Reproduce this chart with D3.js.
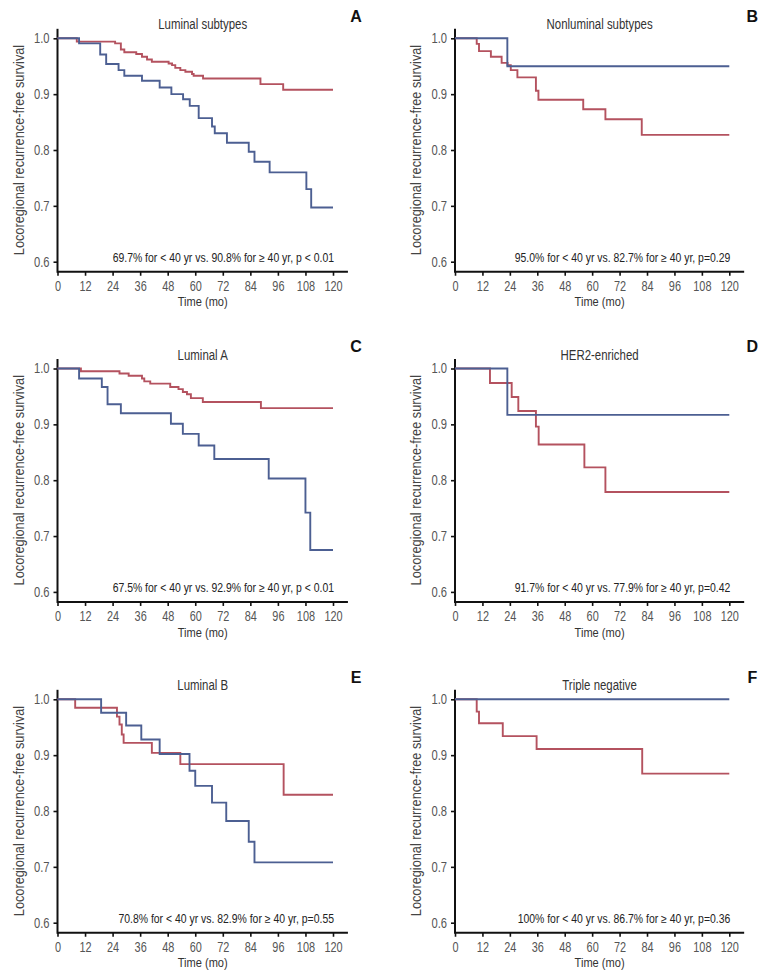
<!DOCTYPE html>
<html><head><meta charset="utf-8">
<script src="https://cdn.jsdelivr.net/npm/d3@7"></script>
<style>
body{margin:0;background:#fff;}
svg{display:block;}
text{font-family:"Liberation Sans","Arial",sans-serif;}
</style></head><body>
<svg id="c" width="767" height="978"></svg>
<script>
const panelLetters = ["A","B","C","D","E","F"];
const panelTitles = ["Luminal subtypes","Nonluminal subtypes","Luminal A","HER2-enriched","Luminal B","Triple negative"];
const annotations = [
 "69.7% for < 40 yr vs. 90.8% for \u2265 40 yr, p < 0.01",
 "95.0% for < 40 yr vs. 82.7% for \u2265 40 yr, p=0.29",
 "67.5% for < 40 yr vs. 92.9% for \u2265 40 yr, p < 0.01",
 "91.7% for < 40 yr vs. 77.9% for \u2265 40 yr, p=0.42",
 "70.8% for < 40 yr vs. 82.9% for \u2265 40 yr, p=0.55",
 "100% for < 40 yr vs. 86.7% for \u2265 40 yr, p=0.36"
];
const xTicks = [0,12,24,36,48,60,72,84,96,108,120];
const yTicks = [0.6,0.7,0.8,0.9,1.0];
const xLabel = "Time (mo)";
const yLabel = "Locoregional recurrence-free survival";

// [month, survival] — under 40 years (blue)
const youngA = [[0,1],[9.4,0.991],[18.6,0.971],[21.2,0.954],[26.6,0.943],[29.1,0.933],[36.8,0.924],[44.5,0.912],[49.6,0.900],[54.7,0.891],[57.6,0.879],[61.5,0.857],[67.3,0.842],[68.5,0.830],[73.8,0.813],[83.3,0.797],[85.8,0.779],[92.4,0.760],[108.4,0.730],[110.5,0.697],[120,0.697]];
const youngB = [[0,1],[22.9,0.950],[120,0.950]];
const youngC = [[0,1],[9.4,0.982],[19.3,0.967],[21.8,0.936],[27.6,0.920],[49.4,0.901],[54.6,0.883],[61.5,0.862],[68.3,0.838],[92,0.803],[108,0.742],[110.1,0.675],[120,0.675]];
const youngD = [[0,1],[22.9,0.917],[120,0.917]];
const youngE = [[0,1],[19,0.976],[29.9,0.953],[36.5,0.928],[44.5,0.902],[57.5,0.872],[60,0.845],[67.3,0.815],[73.5,0.782],[83.3,0.745],[85.8,0.708],[120,0.708]];
const youngF = [[0,1],[120,1]];
// [month, survival] — 40 years or older (red)
const olderA = [[0,1],[8.4,0.994],[25.1,0.991],[27.6,0.980],[29.1,0.975],[34.3,0.972],[36.8,0.967],[39,0.962],[41.1,0.958],[48.4,0.955],[49.9,0.952],[51.3,0.947],[53.5,0.943],[55.7,0.940],[58.6,0.936],[59.3,0.933],[63.4,0.928],[88.4,0.918],[98.3,0.908],[120,0.908]];
const olderB = [[0,1],[9.5,0.990],[10.5,0.977],[15.7,0.967],[20.4,0.956],[23,0.952],[24.4,0.943],[27.3,0.930],[35.4,0.906],[36.5,0.890],[56.1,0.873],[65.8,0.855],[81.7,0.827],[120,0.827]];
const olderC = [[0,1],[10.2,0.995],[27,0.991],[31,0.987],[36.8,0.982],[37.8,0.977],[40.4,0.973],[49.1,0.967],[52.7,0.963],[54.6,0.958],[56.4,0.954],[58.1,0.947],[63.3,0.940],[88.6,0.929],[120,0.929]];
const olderD = [[0,1],[15.3,0.974],[24.8,0.949],[27.7,0.924],[35.4,0.896],[36.6,0.864],[56.6,0.823],[65.8,0.779],[120,0.779]];
const olderE = [[0,1],[7.7,0.985],[25.9,0.969],[27,0.955],[28,0.937],[28.8,0.922],[41.1,0.904],[53.5,0.884],[98.5,0.829],[120,0.829]];
const olderF = [[0,1],[9.5,0.978],[10.5,0.957],[20.9,0.934],[35.7,0.911],[81.9,0.867],[120,0.867]];

const youngSeries = [youngA,youngB,youngC,youngD,youngE,youngF];
const olderSeries = [olderA,olderB,olderC,olderD,olderE,olderF];

const blue = "#4c5f92", red = "#b4525f";
const svg = d3.select("#c");
const colX = [57.5, 455];
const plotW = [275.5, 274.3];
const rowY = [38.3, 368.5, 699.3];
const plotH = 223.4; // 1.0 -> 0.6

function ctext(g, x, y, str, size, fill, anchor, sx, extra){
  return g.append("text").attr("transform",`translate(${x},${y}) ${extra||""} scale(${sx},1)`)
    .attr("text-anchor",anchor).attr("dy","0.35em").attr("font-size",size).attr("fill",fill).text(str);
}

for (let i=0;i<6;i++){
  const col=i%2,row=Math.floor(i/2);
  const x0=colX[col], w=plotW[col], y1=rowY[row];
  const x=d3.scaleLinear().domain([0,120]).range([x0,x0+w]);
  const y=d3.scaleLinear().domain([0.6,1.0]).range([y1+plotH,y1]);
  const g=svg.append("g");
  const xEnd=x(126.5), yBot=y(0.582), yTop=y(1.017);

  // axes
  const xa=g.append("g").attr("transform",`translate(0,${yBot})`)
    .call(d3.axisBottom(x).tickValues(xTicks).tickSize(4).tickSizeOuter(0).tickPadding(3).tickFormat(d3.format("d")));
  xa.select(".domain").remove();
  xa.append("line").attr("x1",x0).attr("x2",xEnd).attr("stroke","#111").attr("stroke-width",2);
  xa.selectAll(".tick line").attr("stroke","#111").attr("stroke-width",1.6);
  xa.selectAll(".tick text").attr("fill","#555").attr("font-size",14).attr("y",null).attr("dy",null)
    .attr("transform","translate(0,19) scale(0.78,1)");

  const ya=g.append("g").attr("transform",`translate(${x0},0)`)
    .call(d3.axisLeft(y).tickValues(yTicks).tickSize(4).tickPadding(3).tickFormat(d3.format(".1f")));
  ya.select(".domain").remove();
  ya.append("line").attr("y1",yTop).attr("y2",yBot+1).attr("stroke","#111").attr("stroke-width",2);
  ya.selectAll(".tick line").attr("stroke","#111").attr("stroke-width",1.6);
  ya.selectAll(".tick text").attr("fill","#555").attr("font-size",14).attr("x",null)
    .attr("transform","translate(-8,0) scale(0.8,1)");

  // curves
  const line=d3.line().x(d=>x(d[0])).y(d=>y(d[1])).curve(d3.curveStepAfter);
  g.append("path").datum(olderSeries[i]).attr("d",line).attr("fill","none").attr("stroke",red).attr("stroke-width",1.9);
  g.append("path").datum(youngSeries[i]).attr("d",line).attr("fill","none").attr("stroke",blue).attr("stroke-width",1.9);

  // texts
  ctext(g,(x0+xEnd)/2,y1-14,panelTitles[i],14.3,"#333","middle",0.8);
  g.append("text").attr("x",x0+w+23).attr("y",y1-22).attr("dy","0.35em").attr("text-anchor","middle")
    .attr("font-size",16).attr("font-weight","bold").attr("fill","#111").text(panelLetters[i]);
  ctext(g,x(120)+1,y(0.6)-4,annotations[i],12,"#222","end",0.87);
  ctext(g,(x0+xEnd)/2,yBot+30,xLabel,13.5,"#333","middle",0.82);
  ctext(g,x0-39,y1+plotH/2,yLabel,14.5,"#444","middle",0.88,"rotate(-90)");
}
</script></body></html>
